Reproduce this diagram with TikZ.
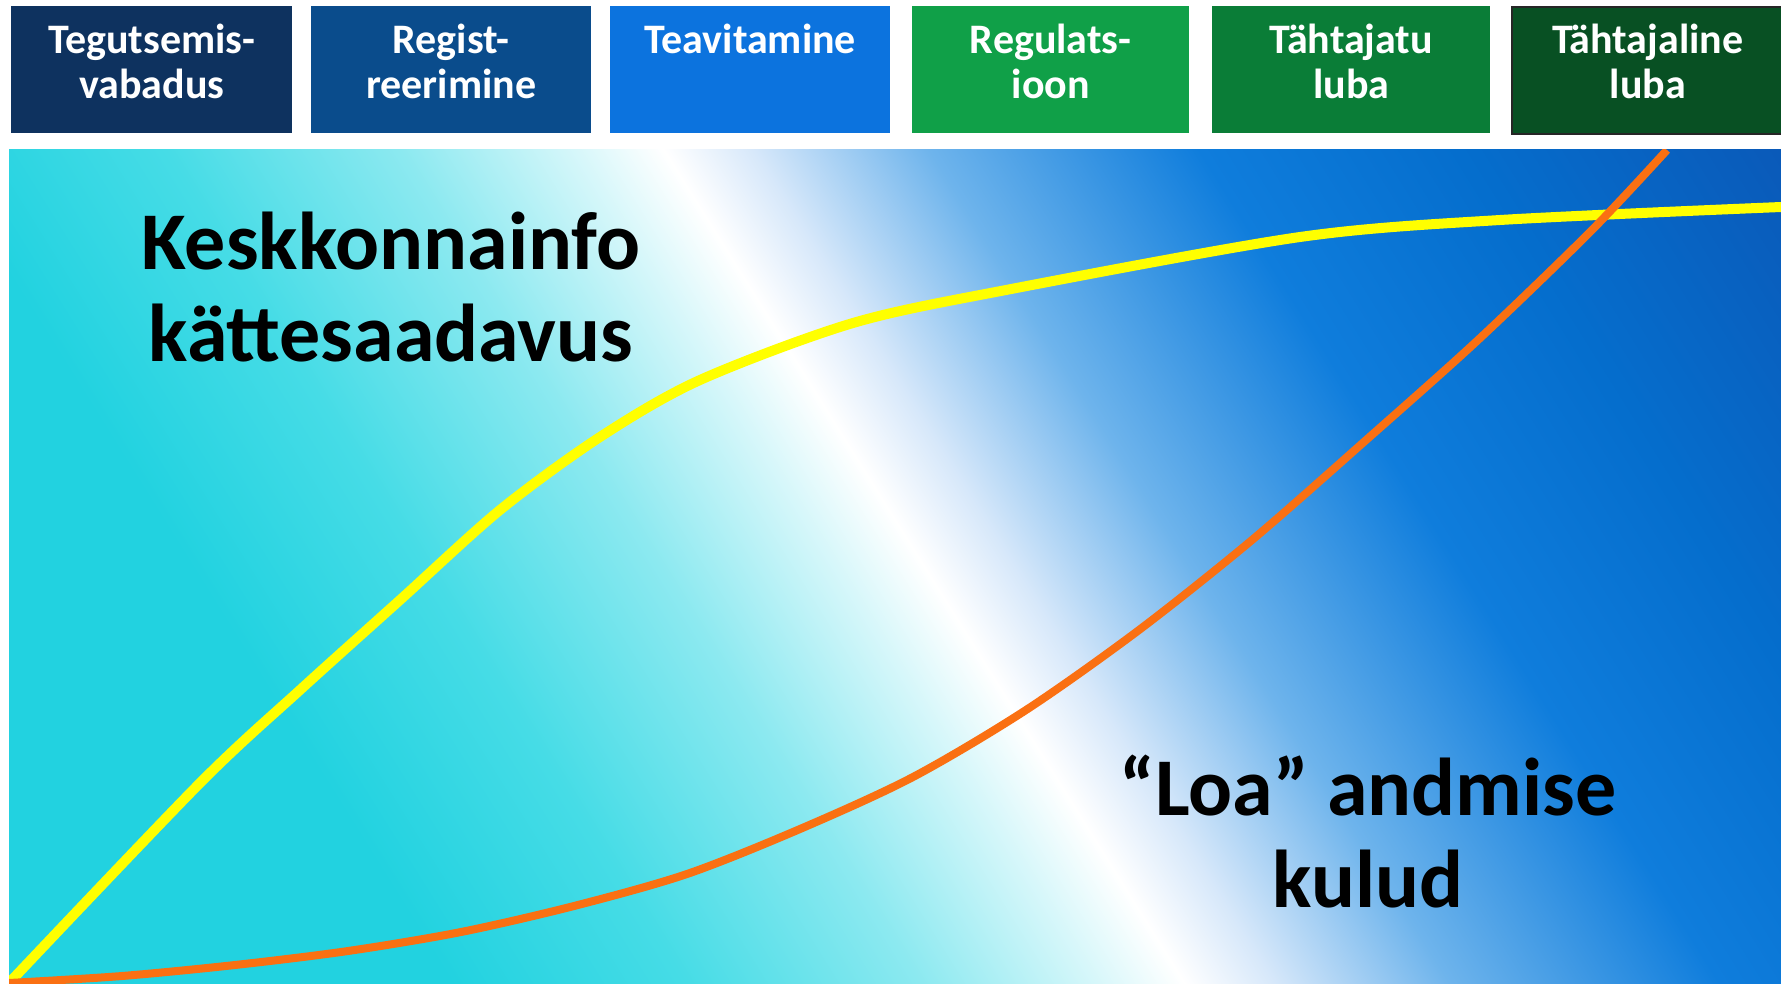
\documentclass[tikz,border=0pt]{standalone}
\usepackage{fontspec}
\setmainfont{Carlito}
\usetikzlibrary{calc}

\definecolor{turq}{RGB}{34,210,224}
\definecolor{tqa}{RGB}{70,220,230}
\definecolor{tqb}{RGB}{140,233,240}
\definecolor{tqc}{RGB}{215,247,250}
\definecolor{bla}{RGB}{215,232,250}
\definecolor{blb}{RGB}{110,180,236}
\definecolor{blc}{RGB}{15,125,220}
\definecolor{bld}{RGB}{5,110,205}
\definecolor{ble}{RGB}{10,90,185}

\definecolor{boxA}{RGB}{14,50,95}
\definecolor{boxB}{RGB}{10,76,140}
\definecolor{boxC}{RGB}{12,115,222}
\definecolor{boxD}{RGB}{16,160,72}
\definecolor{boxE}{RGB}{10,125,55}
\definecolor{boxF}{RGB}{8,80,35}
\definecolor{curveY}{RGB}{255,255,0}
\definecolor{curveO}{RGB}{250,112,18}

\pgfdeclarehorizontalshading{bgshade}{100bp}{color(0bp)=(turq); color(35bp)=(turq); color(40bp)=(tqa); color(45bp)=(tqb); color(48.75bp)=(tqc); color(50.6bp)=(white); color(52.5bp)=(bla); color(56.25bp)=(blb); color(62bp)=(blc); color(67.5bp)=(bld); color(74.3bp)=(ble); color(100bp)=(ble)}

\tikzset{
  stagebox/.style={anchor=north west, inner sep=0pt, minimum width=280pt, minimum height=127pt, draw=none},
  stagetext/.style={anchor=base, inner sep=0pt, text=white, font=\fontsize{42}{45}\selectfont\bfseries},
  bigtext/.style={anchor=base, inner sep=0pt, text=black, font=\fontsize{82}{92}\selectfont\bfseries},
  yline/.style={draw=curveY, line width=10pt},
  oline/.style={draw=curveO, line width=8pt}
}

\begin{document}
\begin{tikzpicture}[x=1pt,y=-1pt]
\useasboundingbox[fill=white] (0,0) rectangle (1781,983);

\begin{scope}
  \clip (9,149) rectangle (1781,983);
  \shade[shading=bgshade, shading angle=32] (-105,-434.5) rectangle (1895,1565.5);
  \draw[yline] plot[smooth] coordinates {(9,983) (200,783) (300,690) (400,600) (500,510) (600,437) (700,380) (853,323) (1006,290) (1300,237) (1500,220) (1781,207)};
  \draw[oline] plot[smooth] coordinates {(9,983) (122,976) (235,965) (348,951) (461,932) (574,906) (687,874) (800,829) (913,777) (1026,710) (1139,630) (1252,540) (1365,441) (1478,340) (1591,231) (1667,150)};
\end{scope}

\node[stagebox, fill=boxA, minimum width=281pt] (b1) at (11,6) {};
\node[stagebox, fill=boxB] (b2) at (311,6) {};
\node[stagebox, fill=boxC] (b3) at (610,6) {};
\node[stagebox, fill=boxD, minimum width=277pt] (b4) at (912,6) {};
\node[stagebox, fill=boxE, minimum width=278pt] (b5) at (1212,6) {};
\node[stagebox, fill=boxF, draw=black!85, line width=1.5pt, minimum width=272pt] (b6) at (1511,6) {};

\node[stagetext] (t1) at ($(b1.north)+(0,47)$) {\begin{tabular}[t]{@{}c@{}}Tegutsemis-\\vabadus\end{tabular}};
\node[stagetext] (t2) at ($(b2.north)+(0,47)$) {\begin{tabular}[t]{@{}c@{}}Regist-\\reerimine\end{tabular}};
\node[stagetext] (t3) at ($(b3.north)+(0,47)$) {\begin{tabular}[t]{@{}c@{}}Teavitamine\end{tabular}};
\node[stagetext] (t4) at ($(b4.north)+(0,47)$) {\begin{tabular}[t]{@{}c@{}}Regulats-\\ioon\end{tabular}};
\node[stagetext] (t5) at ($(b5.north)+(0,47)$) {\begin{tabular}[t]{@{}c@{}}Tähtajatu\\luba\end{tabular}};
\node[stagetext] (t6) at ($(b6.north)+(0,47)$) {\begin{tabular}[t]{@{}c@{}}Tähtajaline\\luba\end{tabular}};

\node[bigtext] (info) at (391,269) {\begin{tabular}[t]{@{}c@{}}Keskkonnainfo\\kättesaadavus\end{tabular}};
\node[bigtext] (cost) at (1368,815) {\begin{tabular}[t]{@{}c@{}}“Loa” andmise\\kulud\end{tabular}};
\end{tikzpicture}
\end{document}
